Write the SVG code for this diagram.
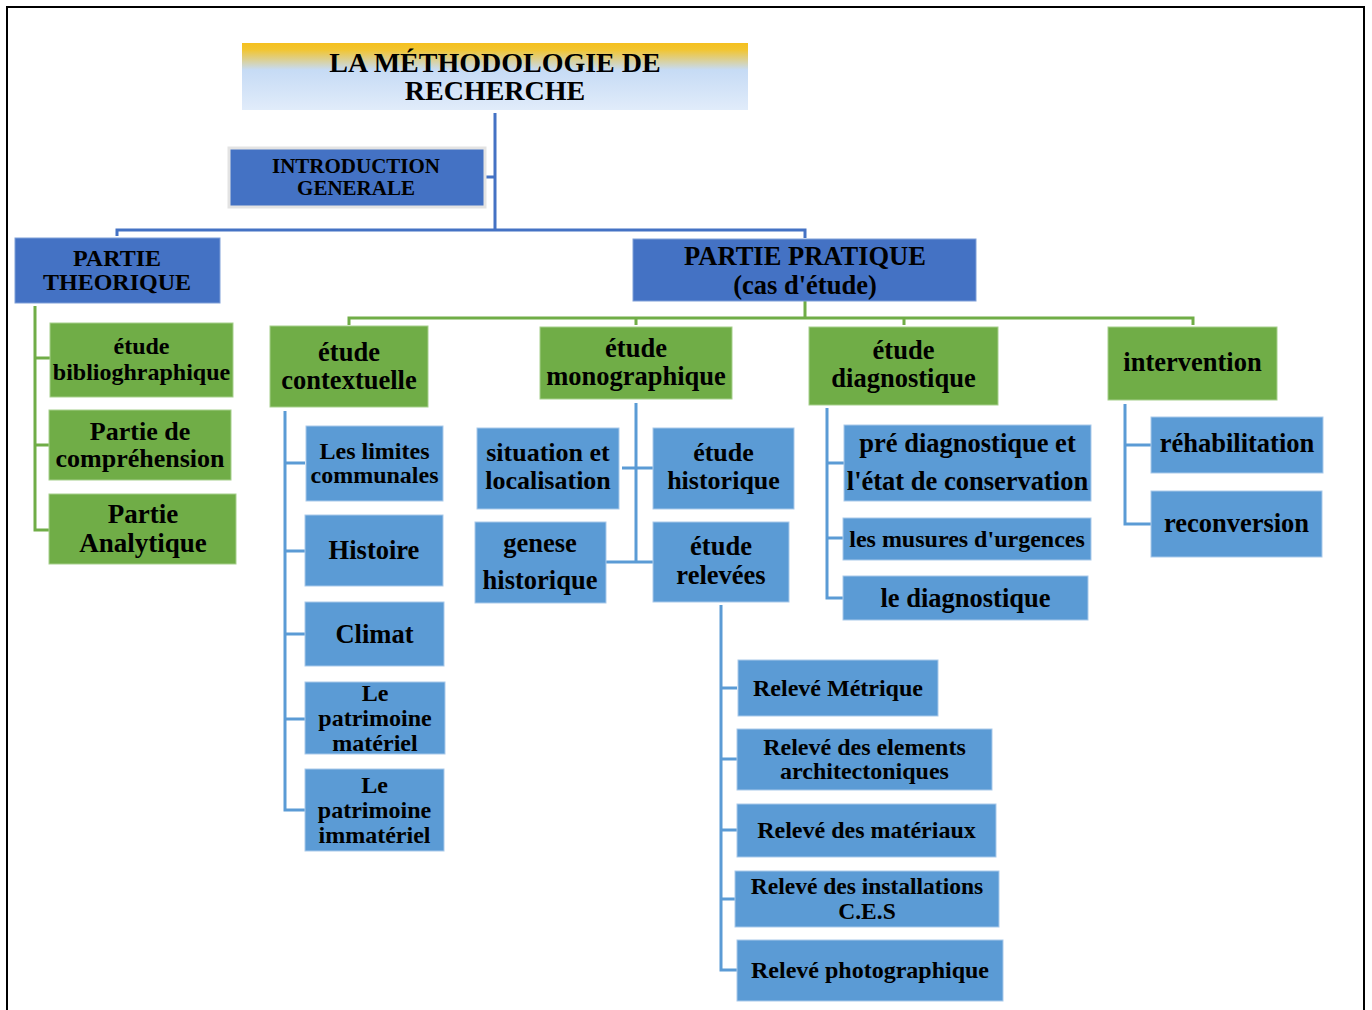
<svg xmlns="http://www.w3.org/2000/svg" width="1372" height="1010" viewBox="0 0 1372 1010">
<defs>
<linearGradient id="tg" x1="0" y1="0" x2="0" y2="1">
<stop offset="0" stop-color="#F5C01E"/>
<stop offset="0.1" stop-color="#F2C530"/>
<stop offset="0.4" stop-color="#C6DBF5"/>
<stop offset="1" stop-color="#E1ECFA"/>
</linearGradient>
</defs>
<style>
text{font-family:"Liberation Serif","Times New Roman",serif;font-weight:bold;fill:#000;text-anchor:middle}
.dk{fill:#4472C4;stroke:#7f9fd8;stroke-width:1}
.lb{fill:#5B9BD5;stroke:#a9c9ea;stroke-width:1}
.gr{fill:#70AD47;stroke:#a6cf8c;stroke-width:1}
.cb{fill:none;stroke:#4472C4;stroke-width:3}
.cg{fill:none;stroke:#70AD47;stroke-width:3}
.cl{fill:none;stroke:#5B9BD5;stroke-width:3}
</style>
<rect width="1372" height="1010" fill="#fff"/>
<rect x="7" y="7" width="1357" height="1020" fill="none" stroke="#000" stroke-width="2"/>

<g id="connectors">
<path class="cb" d="M495,113 V230 M486,177 H495 M117,236 V230 H805 V238"/>
<path class="cg" d="M805,301 V318 M349,325 V318 H1193 V325 M636,318 V325 M904,318 V325"/>
<path class="cg" d="M35,306 V530 H50 M35,358 H50 M35,445 H50"/>
<path class="cl" d="M285,411 V810 H305 M285,463 H305 M285,551 H305 M285,634 H305 M285,719 H305"/>
<path class="cl" d="M636,403 V562 M622,468 H653 M606,562 H653"/>
<path class="cl" d="M721,605 V970 H737 M721,688 H737 M721,759 H737 M721,830 H737 M721,899 H737"/>
<path class="cl" d="M827,408 V598 H843 M827,463 H844 M827,538 H843"/>
<path class="cl" d="M1125,404 V524 H1151 M1125,445 H1151"/>
</g>

<g id="title">
<rect x="242" y="43" width="506" height="67" fill="url(#tg)"/>
<text x="495" y="72" font-size="28">LA MÉTHODOLOGIE DE</text>
<text x="495" y="100" font-size="28">RECHERCHE</text>
</g>

<g id="intro">
<rect x="229" y="148" width="256" height="59" fill="#4472C4" stroke="#e3e3e3" stroke-width="3"/>
<text x="356" y="173" font-size="21">INTRODUCTION</text>
<text x="356" y="195" font-size="21">GENERALE</text>
</g>

<g id="theorique">
<rect class="dk" x="15" y="238" width="205" height="65"/>
<text x="117" y="266" font-size="24">PARTIE</text>
<text x="117" y="290" font-size="24">THEORIQUE</text>
</g>

<g id="pratique">
<rect class="dk" x="633" y="239" width="343" height="62"/>
<text x="805" y="265" font-size="26.5">PARTIE PRATIQUE</text>
<text x="805" y="294" font-size="26.5">(cas d'étude)</text>
</g>

<g id="biblio">
<rect class="gr" x="50" y="323" width="183" height="74"/>
<text x="141.5" y="354" font-size="24">étude</text>
<text x="141.5" y="380" font-size="24">biblioghraphique</text>
</g>
<g id="comprehension">
<rect class="gr" x="49" y="410" width="182" height="70"/>
<text x="140" y="440" font-size="26">Partie de</text>
<text x="140" y="467" font-size="26">compréhension</text>
</g>
<g id="analytique">
<rect class="gr" x="49" y="494" width="187" height="70"/>
<text x="143" y="523" font-size="27">Partie</text>
<text x="143" y="552" font-size="27">Analytique</text>
</g>

<g id="contextuelle">
<rect class="gr" x="270" y="326" width="158" height="81"/>
<text x="349" y="361" font-size="26.5">étude</text>
<text x="349" y="389" font-size="26.5">contextuelle</text>
</g>
<g id="limites">
<rect class="lb" x="306" y="426" width="137" height="75"/>
<text x="374.5" y="459" font-size="24">Les limites</text>
<text x="374.5" y="483" font-size="24">communales</text>
</g>
<g id="histoire">
<rect class="lb" x="305" y="515" width="138" height="71"/>
<text x="374" y="559" font-size="26.5">Histoire</text>
</g>
<g id="climat">
<rect class="lb" x="305" y="602" width="139" height="64"/>
<text x="374.5" y="643" font-size="26.5">Climat</text>
</g>
<g id="materiel">
<rect class="lb" x="305" y="682" width="140" height="72"/>
<text x="375" y="701" font-size="24">Le</text>
<text x="375" y="726" font-size="24">patrimoine</text>
<text x="375" y="751" font-size="24">matériel</text>
</g>
<g id="immateriel">
<rect class="lb" x="305" y="769" width="139" height="82"/>
<text x="374.5" y="793" font-size="24">Le</text>
<text x="374.5" y="818" font-size="24">patrimoine</text>
<text x="374.5" y="843" font-size="24">immatériel</text>
</g>

<g id="monographique">
<rect class="gr" x="540" y="327" width="192" height="72"/>
<text x="636" y="357" font-size="26.5">étude</text>
<text x="636" y="385" font-size="26.5">monographique</text>
</g>
<g id="situation">
<rect class="lb" x="477" y="428" width="142" height="81"/>
<text x="548" y="461" font-size="26">situation et</text>
<text x="548" y="489" font-size="26">localisation</text>
</g>
<g id="historique">
<rect class="lb" x="653" y="428" width="141" height="81"/>
<text x="723.5" y="461" font-size="26">étude</text>
<text x="723.5" y="489" font-size="26">historique</text>
</g>
<g id="genese">
<rect class="lb" x="475" y="522" width="131" height="81"/>
<text x="540" y="552" font-size="26.5">genese</text>
<text x="540" y="589" font-size="26.5">historique</text>
</g>
<g id="relevees">
<rect class="lb" x="653" y="522" width="136" height="80"/>
<text x="721" y="555" font-size="26.5">étude</text>
<text x="721" y="584" font-size="26.5">relevées</text>
</g>

<g id="metrique">
<rect class="lb" x="738" y="660" width="200" height="56"/>
<text x="838" y="696" font-size="24">Relevé Métrique</text>
</g>
<g id="elements">
<rect class="lb" x="737" y="729" width="255" height="61"/>
<text x="864.5" y="755" font-size="24">Relevé des elements</text>
<text x="864.5" y="779" font-size="24">architectoniques</text>
</g>
<g id="materiaux">
<rect class="lb" x="737" y="804" width="259" height="53"/>
<text x="866.5" y="838" font-size="24">Relevé des matériaux</text>
</g>
<g id="installations">
<rect class="lb" x="735" y="871" width="264" height="56"/>
<text x="867" y="894" font-size="23.5">Relevé des installations</text>
<text x="867" y="919" font-size="23.5">C.E.S</text>
</g>
<g id="photographique">
<rect class="lb" x="737" y="940" width="266" height="61"/>
<text x="870" y="978" font-size="24">Relevé photographique</text>
</g>

<g id="diagnostique">
<rect class="gr" x="809" y="327" width="189" height="78"/>
<text x="903.5" y="359" font-size="26.5">étude</text>
<text x="903.5" y="387" font-size="26.5">diagnostique</text>
</g>
<g id="prediagnostique">
<rect class="lb" x="844" y="425" width="247" height="76"/>
<text x="967.5" y="452" font-size="26.5">pré diagnostique et</text>
<text x="967.5" y="490" font-size="26.5">l'état de conservation</text>
</g>
<g id="musures">
<rect class="lb" x="843" y="518" width="248" height="42"/>
<text x="967" y="547" font-size="24">les musures d'urgences</text>
</g>
<g id="lediagnostique">
<rect class="lb" x="843" y="576" width="245" height="44"/>
<text x="965.5" y="607" font-size="26.5">le diagnostique</text>
</g>

<g id="intervention">
<rect class="gr" x="1108" y="327" width="169" height="73"/>
<text x="1192.5" y="371" font-size="26.5">intervention</text>
</g>
<g id="rehabilitation">
<rect class="lb" x="1151" y="417" width="172" height="56"/>
<text x="1237" y="452" font-size="26.5">réhabilitation</text>
</g>
<g id="reconversion">
<rect class="lb" x="1151" y="491" width="171" height="66"/>
<text x="1236.5" y="532" font-size="26.5">reconversion</text>
</g>
</svg>
